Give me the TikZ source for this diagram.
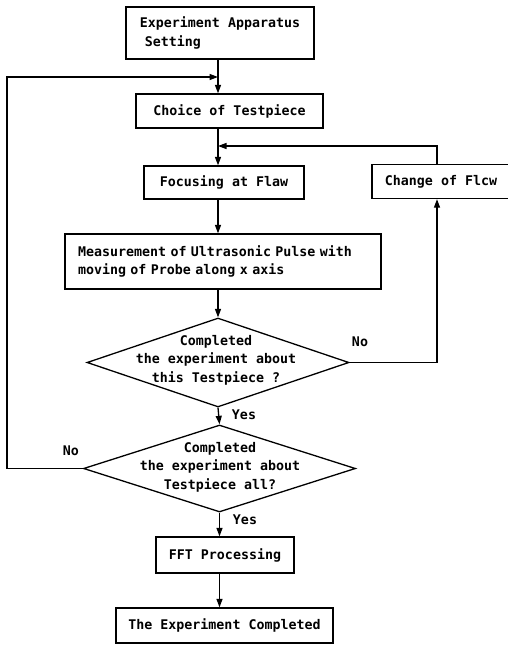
\documentclass[tikz,border=0pt]{standalone}
\usepackage{fontspec}
\setmonofont{DejaVu Sans Mono}
\usetikzlibrary{arrows.meta,shapes.geometric}

\begin{document}
\begin{tikzpicture}[x=1pt,y=-1pt,
  line width=1.3pt,
  every node/.style={font=\ttfamily\bfseries\fontsize{13.3}{18.5}\selectfont},
  proc/.style={draw,rectangle,inner sep=0pt},
  decision/.style={draw,diamond,inner sep=0pt},
  flow/.style={-{Triangle[length=8.5pt,width=6pt]}},
  ]
  \useasboundingbox (0,0) rectangle (507,645);
  \coordinate (ax) at (218,0);
  \coordinate (lft) at (7,0);
  \coordinate (rx) at (437,0);
  \coordinate (j1) at (218,77);
  \coordinate (j2) at (218,146);

  \node[proc, minimum width=188pt, minimum height=52pt, align=left] (setup) at (220,33) {Experiment Apparatus\\\hspace*{5pt}Setting};
  \node[proc, minimum width=187pt, minimum height=34pt] (choice) at (229.5,111) {Choice of Testpiece};
  \node[proc, minimum width=160pt, minimum height=33pt] (focus) at (224,182.5) {Focusing at Flaw};
  \node[proc, minimum width=138pt, minimum height=34pt] (flaw) at (441,181.5) {Change of Flcw};
  \node[proc, minimum height=55pt, inner xsep=13pt, text width=290pt, align=left] (measure) at (223,261.5) {Measurement of Ultrasonic Pulse with\\moving of Probe along x axis};
  \node[decision, minimum width=262pt, minimum height=89pt] (dec1) at (218,362.5) {};
  \node[align=center] (dec1txt) at (216,360) {Completed\\the experiment about\\this Testpiece ?};
  \node[decision, minimum width=272pt, minimum height=87pt] (dec2) at (219.5,468.5) {};
  \node[align=center] (dec2txt) at (220,467) {Completed\\the experiment about\\Testpiece all?};
  \node[proc, minimum width=138pt, minimum height=36pt] (fft) at (225,555) {FFT Processing};
  \node[proc, minimum width=217pt, minimum height=35pt] (done) at (224.5,625.5) {The Experiment Completed};

  \node (no1) at (360,342) {No};
  \node (yes1) at (244,415) {Yes};
  \node (no2) at (71,451) {No};
  \node (yes2) at (245,520) {Yes};

  \draw[flow] (setup.south -| ax) -- (choice.north -| ax);
  \draw[flow] (choice.south -| ax) -- (focus.north -| ax);
  \draw[flow] (focus.south -| ax) -- (measure.north -| ax);
  \draw[flow] (measure.south -| ax) -- (dec1.north);
  \draw[flow] (dec1.south) -- (dec2.north);
  \draw[flow] (dec2.south) -- (dec2.south |- fft.north);
  \draw[flow] (fft.south -| dec2.south) -- (done.north -| dec2.south);
  \draw[flow] (dec1.east) -| (flaw.south -| rx);
  \draw[flow] (flaw.north -| rx) |- (j2);
  \draw[flow] (dec2.west) -| (lft |- j1) -- (j1);
\end{tikzpicture}
\end{document}
